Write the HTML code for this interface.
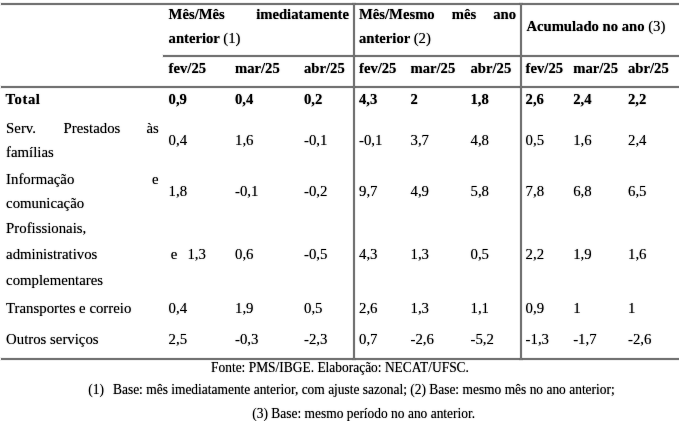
<!DOCTYPE html>
<html lang="pt"><head><meta charset="utf-8"><title>Tabela PMS</title>
<style>
html,body{margin:0;padding:0;background:#fff;}
body{width:679px;height:421px;position:relative;overflow:hidden;font-family:"Liberation Serif","Times New Roman",serif;color:#000;}
.t{position:absolute;white-space:pre;line-height:20px;font-size:14.8px;text-shadow:0 0 1.3px rgba(0,0,0,0.55);}
.f{font-size:13.45px;transform:scaleY(1.08);transform-origin:0 14.5px;}
.r{transform:scaleY(1.05);transform-origin:0 15px;}
.b{font-weight:bold;font-size:14.67px;}
.n{font-weight:normal;font-size:14.8px;}
.l{position:absolute;background:#737373;box-shadow:0 0 0 1px rgba(0,0,0,0.06);}
</style></head><body>

<div class="l" style="left:1px;top:3px;width:678px;height:2px"></div>
<div class="l" style="left:163px;top:55px;width:516px;height:2px"></div>
<div class="l" style="left:1px;top:86px;width:678px;height:2px"></div>
<div class="l" style="left:1px;top:358px;width:678px;height:2px"></div>
<div class="l" style="left:353px;top:3px;width:2px;height:357px"></div>
<div class="l" style="left:520px;top:3px;width:2px;height:357px"></div>
<div class="t b r" style="left:168.6px;top:3.8px">Mês/Mês</div>
<div class="t b r" style="left:256.2px;top:3.8px">imediatamente</div>
<div class="t b r" style="left:168.6px;top:28.4px">anterior <span class="n">(1)</span></div>
<div class="t b r" style="left:359px;top:3.8px">Mês/Mesmo</div>
<div class="t b r" style="left:451.8px;top:3.8px">mês</div>
<div class="t b r" style="left:493.2px;top:3.8px">ano</div>
<div class="t b r" style="left:359px;top:28.4px">anterior <span class="n">(2)</span></div>
<div class="t b r" style="left:526.4px;top:16px">Acumulado no ano <span class="n">(3)</span></div>
<div class="t b r" style="left:168.6px;top:57.9px">fev/25</div>
<div class="t b r" style="left:235px;top:57.9px">mar/25</div>
<div class="t b r" style="left:304px;top:57.9px">abr/25</div>
<div class="t b r" style="left:359px;top:57.9px">fev/25</div>
<div class="t b r" style="left:410.5px;top:57.9px">mar/25</div>
<div class="t b r" style="left:470.5px;top:57.9px">abr/25</div>
<div class="t b r" style="left:525.6px;top:57.9px">fev/25</div>
<div class="t b r" style="left:573.2px;top:57.9px">mar/25</div>
<div class="t b r" style="left:628px;top:57.9px">abr/25</div>
<div class="t b r" style="left:5.6px;top:89px;letter-spacing:0.55px">Total</div>
<div class="t b r" style="left:168.6px;top:89px">0,9</div>
<div class="t b r" style="left:235px;top:89px">0,4</div>
<div class="t b r" style="left:304px;top:89px">0,2</div>
<div class="t b r" style="left:359px;top:89px">4,3</div>
<div class="t b r" style="left:410.5px;top:89px">2</div>
<div class="t b r" style="left:470.5px;top:89px">1,8</div>
<div class="t b r" style="left:525.6px;top:89px">2,6</div>
<div class="t b r" style="left:573.2px;top:89px">2,4</div>
<div class="t b r" style="left:628px;top:89px">2,2</div>
<div class="t r" style="left:6.1px;top:117.6px">Serv.</div>
<div class="t r" style="left:63.6px;top:117.6px">Prestados</div>
<div class="t r" style="left:146.5px;top:117.6px">às</div>
<div class="t r" style="left:6.1px;top:142px">famílias</div>
<div class="t r" style="left:168.6px;top:130px">0,4</div>
<div class="t r" style="left:235px;top:130px">1,6</div>
<div class="t r" style="left:304px;top:130px">-0,1</div>
<div class="t r" style="left:359px;top:130px">-0,1</div>
<div class="t r" style="left:410.5px;top:130px">3,7</div>
<div class="t r" style="left:470.5px;top:130px">4,8</div>
<div class="t r" style="left:525.6px;top:130px">0,5</div>
<div class="t r" style="left:573.2px;top:130px">1,6</div>
<div class="t r" style="left:628px;top:130px">2,4</div>
<div class="t r" style="left:6.1px;top:168.6px">Informação</div>
<div class="t r" style="left:152px;top:168.6px">e</div>
<div class="t r" style="left:6.1px;top:193.2px">comunicação</div>
<div class="t r" style="left:168.6px;top:180.8px">1,8</div>
<div class="t r" style="left:235px;top:180.8px">-0,1</div>
<div class="t r" style="left:304px;top:180.8px">-0,2</div>
<div class="t r" style="left:359px;top:180.8px">9,7</div>
<div class="t r" style="left:410.5px;top:180.8px">4,9</div>
<div class="t r" style="left:470.5px;top:180.8px">5,8</div>
<div class="t r" style="left:525.6px;top:180.8px">7,8</div>
<div class="t r" style="left:573.2px;top:180.8px">6,8</div>
<div class="t r" style="left:628px;top:180.8px">6,5</div>
<div class="t r" style="left:6.1px;top:218.1px">Profissionais,</div>
<div class="t r" style="left:6.1px;top:244px">administrativos</div>
<div class="t r" style="left:6.1px;top:270px">complementares</div>
<div class="t r" style="left:170.8px;top:244.3px">e</div>
<div class="t r" style="left:187.4px;top:244.3px">1,3</div>
<div class="t r" style="left:235px;top:244.3px">0,6</div>
<div class="t r" style="left:304px;top:244.3px">-0,5</div>
<div class="t r" style="left:359px;top:244.3px">4,3</div>
<div class="t r" style="left:410.5px;top:244.3px">1,3</div>
<div class="t r" style="left:470.5px;top:244.3px">0,5</div>
<div class="t r" style="left:525.6px;top:244.3px">2,2</div>
<div class="t r" style="left:573.2px;top:244.3px">1,9</div>
<div class="t r" style="left:628px;top:244.3px">1,6</div>
<div class="t r" style="left:6.1px;top:298.4px">Transportes e correio</div>
<div class="t r" style="left:168.6px;top:298.3px">0,4</div>
<div class="t r" style="left:235px;top:298.3px">1,9</div>
<div class="t r" style="left:304px;top:298.3px">0,5</div>
<div class="t r" style="left:359px;top:298.3px">2,6</div>
<div class="t r" style="left:410.5px;top:298.3px">1,3</div>
<div class="t r" style="left:470.5px;top:298.3px">1,1</div>
<div class="t r" style="left:525.6px;top:298.3px">0,9</div>
<div class="t r" style="left:573.2px;top:298.3px">1</div>
<div class="t r" style="left:628px;top:298.3px">1</div>
<div class="t r" style="left:6.1px;top:329.3px">Outros serviços</div>
<div class="t r" style="left:168.6px;top:329.3px">2,5</div>
<div class="t r" style="left:235px;top:329.3px">-0,3</div>
<div class="t r" style="left:304px;top:329.3px">-2,3</div>
<div class="t r" style="left:359px;top:329.3px">0,7</div>
<div class="t r" style="left:410.5px;top:329.3px">-2,6</div>
<div class="t r" style="left:470.5px;top:329.3px">-5,2</div>
<div class="t r" style="left:525.6px;top:329.3px">-1,3</div>
<div class="t r" style="left:573.2px;top:329.3px">-1,7</div>
<div class="t r" style="left:628px;top:329.3px">-2,6</div>
<div class="t f" style="left:211px;top:357.8px">Fonte: PMS/IBGE. Elaboração: NECAT/UFSC.</div>
<div class="t f" style="left:88.3px;top:380.3px">(1)</div>
<div class="t f" style="left:113px;top:380.3px">Base: mês imediatamente anterior, com ajuste sazonal; (2) Base: mesmo mês no ano anterior;</div>
<div class="t f" style="left:252.3px;top:404.1px">(3) Base: mesmo período no ano anterior.</div>
</body></html>
